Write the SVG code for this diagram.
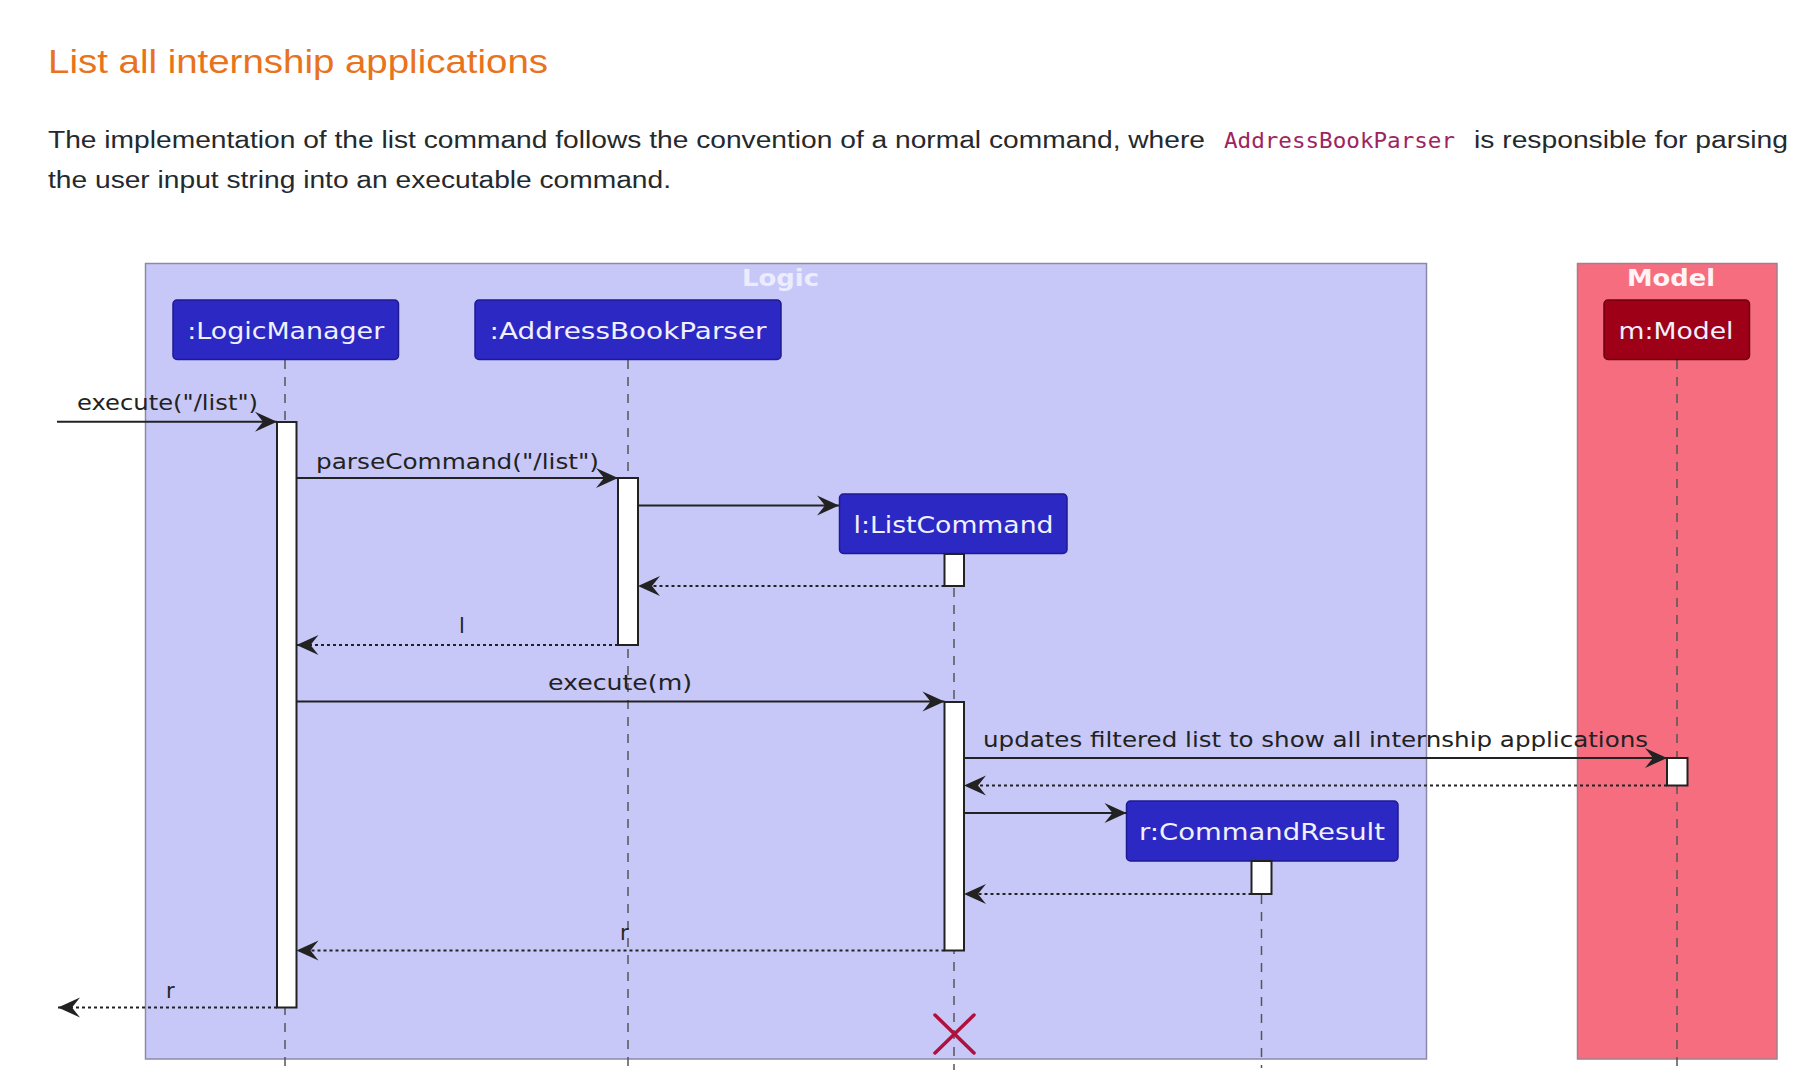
<svg xmlns="http://www.w3.org/2000/svg" width="1795" height="1087" viewBox="0 0 1795 1087">
<style>
.title{font-family:"Liberation Sans",Arial,sans-serif;font-size:34px;fill:#e8731c}
.body{font-family:"Liberation Sans",Arial,sans-serif;font-size:23.5px;fill:#24292e}
.code{font-family:"DejaVu Sans Mono","Liberation Mono",monospace;font-size:22px;fill:#9e2461}
.part{fill:#2c28c4;stroke:#1e1a90;stroke-width:1.5}
.partm{fill:#9e0018;stroke:#6e0010;stroke-width:1.5}
.ptxt{font-family:"DejaVu Sans",sans-serif;font-size:23px;fill:#f0f0ff;text-anchor:middle}
.msg{font-family:"DejaVu Sans",sans-serif;font-size:21px;fill:#222}
.life{stroke:#555;stroke-width:1.5;stroke-dasharray:9 8;fill:none}
.act{fill:#fff;stroke:#222;stroke-width:2}
.sync{stroke:#222;stroke-width:2;fill:none;marker-end:url(#ah)}
.ret{stroke:#222;stroke-width:2;stroke-dasharray:3 3;fill:none;marker-end:url(#ah)}
.boxlbl{font-family:"DejaVu Sans",sans-serif;font-weight:bold;font-size:23px;text-anchor:middle}
</style>
<defs>
<marker id="ah" viewBox="-24 -11 26 22" markerWidth="26" markerHeight="22" refX="0" refY="0" markerUnits="userSpaceOnUse" orient="auto">
<path d="M0,0 L-22,-10 L-14,0 L-22,10 Z" fill="#222"/>
</marker>
</defs>
<rect width="1795" height="1087" fill="#fff"/>
<text class="title" x="48" y="73" textLength="500" lengthAdjust="spacingAndGlyphs">List all internship applications</text>
<text class="body" x="48" y="148" textLength="1157" lengthAdjust="spacingAndGlyphs">The implementation of the list command follows the convention of a normal command, where</text>
<text class="code" x="1224" y="148" textLength="231" lengthAdjust="spacingAndGlyphs">AddressBookParser</text>
<text class="body" x="1474" y="148" textLength="314" lengthAdjust="spacingAndGlyphs">is responsible for parsing</text>
<text class="body" x="48" y="188" textLength="623" lengthAdjust="spacingAndGlyphs">the user input string into an executable command.</text>

<g id="box-logic">
<rect x="145.5" y="263.5" width="1281" height="795.5" fill="#c8c8f8" stroke="#8a8aa8" stroke-width="1.5"/>
<text class="boxlbl" x="780.5" y="286" fill="#ececff" textLength="77" lengthAdjust="spacingAndGlyphs">Logic</text>
</g>
<g id="box-model">
<rect x="1577.5" y="263.5" width="199.5" height="795.5" fill="#f76d80" stroke="#a08088" stroke-width="1.5"/>
<text class="boxlbl" x="1671" y="286" fill="#fff4f6" textLength="88" lengthAdjust="spacingAndGlyphs">Model</text>
</g>

<g id="lifelines">
<line class="life" x1="285" y1="360" x2="285" y2="1070"/>
<line class="life" x1="628" y1="360" x2="628" y2="1070"/>
<line class="life" x1="954" y1="554" x2="954" y2="1070"/>
<line class="life" x1="1261.5" y1="861" x2="1261.5" y2="1068"/>
<line class="life" x1="1677" y1="360" x2="1677" y2="1070"/>
</g>

<g id="LogicManager">
<rect class="part" x="173" y="300" width="225.5" height="59.5" rx="4"/>
<text class="ptxt" x="285.7" y="339" textLength="197" lengthAdjust="spacingAndGlyphs">:LogicManager</text>
<rect class="act" x="277" y="422" width="19.5" height="585.5"/>
</g>
<g id="AddressBookParser">
<rect class="part" x="475" y="300" width="306" height="59.5" rx="4"/>
<text class="ptxt" x="628" y="339" textLength="277" lengthAdjust="spacingAndGlyphs">:AddressBookParser</text>
<rect class="act" x="618" y="478" width="20" height="167"/>
</g>
<g id="ListCommand">
<rect class="part" x="839.5" y="494" width="227.5" height="59.5" rx="4"/>
<text class="ptxt" x="953.5" y="533" textLength="200" lengthAdjust="spacingAndGlyphs">l:ListCommand</text>
<rect class="act" x="944.5" y="554" width="19.5" height="32"/>
<rect class="act" x="944.5" y="702" width="19.5" height="248.5"/>
</g>
<g id="CommandResult">
<rect class="part" x="1126.5" y="801" width="271.5" height="60" rx="4"/>
<text class="ptxt" x="1262" y="840" textLength="246" lengthAdjust="spacingAndGlyphs">r:CommandResult</text>
<rect class="act" x="1251.5" y="861" width="20" height="33"/>
</g>
<g id="Model">
<rect class="partm" x="1604" y="300" width="145.5" height="59.5" rx="4"/>
<text class="ptxt" x="1676" y="339" textLength="115" lengthAdjust="spacingAndGlyphs">m:Model</text>
<rect class="act" x="1667" y="758" width="20.5" height="27.5"/>
</g>

<g id="connectors">
<line class="sync" x1="57" y1="421.7" x2="277" y2="421.7"/>
<text class="msg" x="77" y="410" textLength="181" lengthAdjust="spacingAndGlyphs">execute("/list")</text>
<line class="sync" x1="296.5" y1="478" x2="618" y2="478"/>
<text class="msg" x="316" y="469" textLength="283" lengthAdjust="spacingAndGlyphs">parseCommand("/list")</text>
<line class="sync" x1="638" y1="505.5" x2="839" y2="505.5"/>
<line class="ret" x1="944.5" y1="586" x2="638" y2="586"/>
<line class="ret" x1="618" y1="645" x2="296.5" y2="645"/>
<text class="msg" x="459" y="633">l</text>
<line class="sync" x1="296.5" y1="701.5" x2="944.5" y2="701.5"/>
<text class="msg" x="548" y="690" textLength="144" lengthAdjust="spacingAndGlyphs">execute(m)</text>
<line class="sync" x1="964" y1="758" x2="1667" y2="758"/>
<text class="msg" x="983" y="747" textLength="665" lengthAdjust="spacingAndGlyphs">updates filtered list to show all internship applications</text>
<line class="ret" x1="1667" y1="785.5" x2="964" y2="785.5"/>
<line class="sync" x1="964" y1="813" x2="1126.5" y2="813"/>
<line class="ret" x1="1251.5" y1="894" x2="964" y2="894"/>
<line class="ret" x1="944.5" y1="950.5" x2="296.5" y2="950.5"/>
<text class="msg" x="620" y="940">r</text>
<line class="ret" x1="277" y1="1007.5" x2="58" y2="1007.5"/>
<text class="msg" x="166" y="998">r</text>
</g>

<g id="destroy" stroke="#b0103e" stroke-width="3.5" stroke-linecap="round">
<line x1="935" y1="1015" x2="974" y2="1053"/>
<line x1="974" y1="1015" x2="935" y2="1053"/>
</g>
</svg>
